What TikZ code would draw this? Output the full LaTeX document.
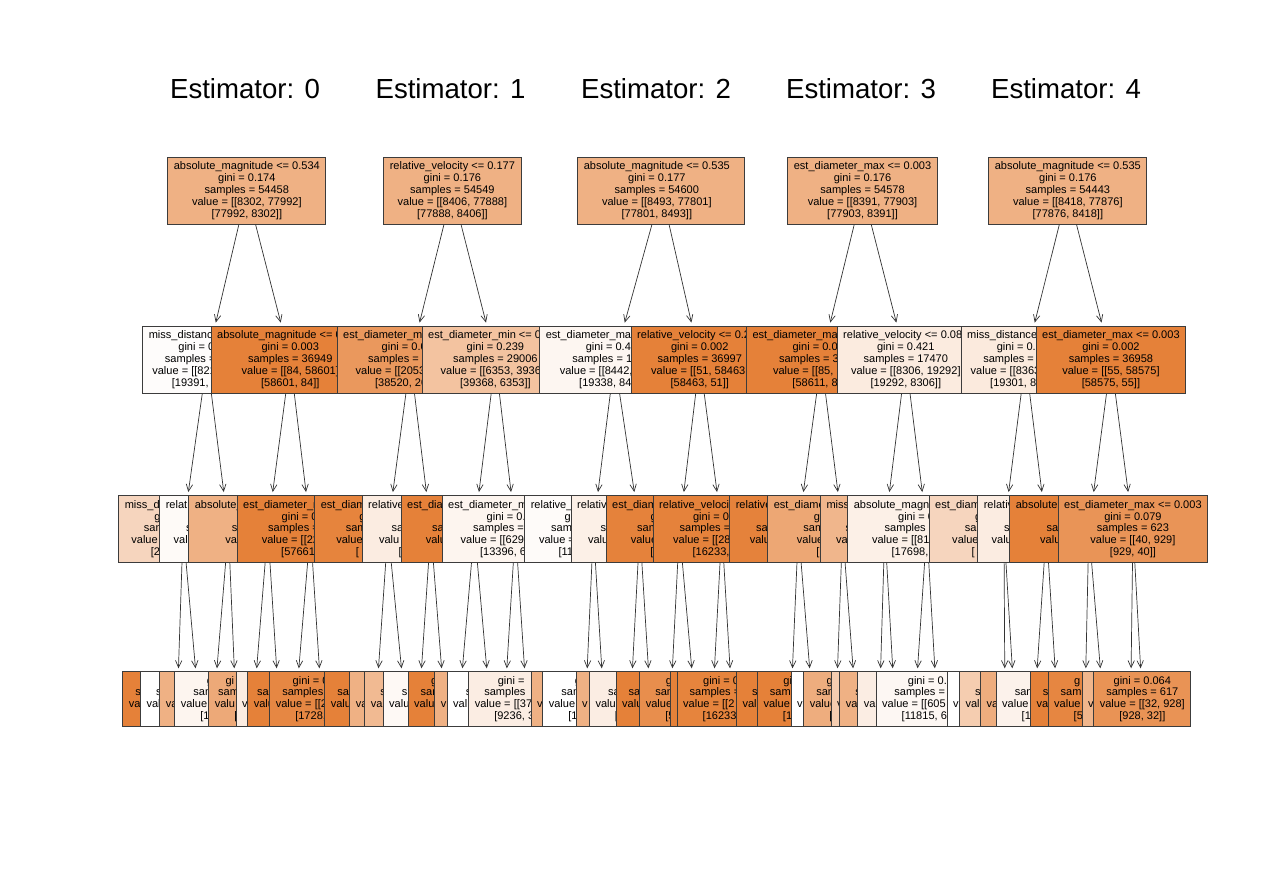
\documentclass[tikz,border=0pt]{standalone}
\usepackage{fontspec}
\setmainfont{Liberation Sans}
\usetikzlibrary{arrows.meta}
\definecolor{treeorg}{RGB}{229,129,57}
\definecolor{boxline}{RGB}{60,60,60}
\newcommand{\hidtxt}[1]{\phantom{#1}}
\newcommand{\padr}{\rule{4.5pt}{0pt}}
\tikzset{
  treetitle/.style={anchor=base,font=\fontsize{13.8}{16}\selectfont},
  nodebox/.style={draw=boxline,line width=0.5pt,anchor=west,align=center,
    inner xsep=3pt,inner ysep=0pt,minimum height=33.5pt,
    font=\fontsize{5.52}{5.92}\selectfont,fill=treeorg!#1!white},
  leafbox/.style={nodebox=#1,minimum height=27.2pt},
  branch/.style={draw=black!80,line width=0.35pt,
    -{Straight Barb[length=3.5pt,width=3.2pt]},shorten >=1.5pt}
}
\begin{document}
\begin{tikzpicture}[x=0.5pt,y=-0.5pt]
  \useasboundingbox (0,0) rectangle (1280,880);
  \fill[white] (0,0) rectangle (1280,880);
  \node[treetitle] (t0) at (245,98) {Estimator: 0};
  \node[treetitle] (t1) at (450.5,98) {Estimator: 1};
  \node[treetitle] (t2) at (656,98) {Estimator: 2};
  \node[treetitle] (t3) at (861,98) {Estimator: 3};
  \node[treetitle] (t4) at (1066,98) {Estimator: 4};
  % roots
  \node[nodebox=62] (e0) at (167.3,190.5) {absolute\_magnitude <= 0.534\\gini = 0.174\\samples = 54458\\value = [[8302, 77992]\\{}[77992, 8302]]};
  \node[nodebox=62] (e1) at (383.3,190.5) {relative\_velocity <= 0.177\\gini = 0.176\\samples = 54549\\value = [[8406, 77888]\\{}[77888, 8406]]};
  \node[nodebox=62] (e2) at (577.3,190.5) {absolute\_magnitude <= 0.535\padr\\gini = 0.177\padr\\samples = 54600\padr\\value = [[8493, 77801]\padr\\{}[77801, 8493]]\padr};
  \node[nodebox=62] (e3) at (787.3,190.5) {est\_diameter\_max <= 0.003\\gini = 0.176\\samples = 54578\\value = [[8391, 77903]\\{}[77903, 8391]]};
  \node[nodebox=62] (e4) at (988.3,190.5) {absolute\_magnitude <= 0.535\\gini = 0.176\\samples = 54443\\value = [[8418, 77876]\\{}[77876, 8418]]};
  % depth 1
  \node[nodebox=2] (e0l) at (142.3,359.5) {miss\_distanc\hidtxt{e <= 0.000}\\gini = 0\hidtxt{.000}\\samples =\hidtxt{ 17509}\\value = [[821\hidtxt{8, 19391]}\\{}[19391, 8\hidtxt{218]]}};
  \node[nodebox=100] (e0r) at (210.7,359.5) {absolute\_magnitude <= 0\hidtxt{.000}\\gini = 0.003\\samples = 36949\\value = [[84, 58601]\\{}[58601, 84]]};
  \node[nodebox=82] (e1l) at (336.7,359.5) {est\_diameter\_mi\hidtxt{n <= 0.000}\\gini = 0.0\hidtxt{00}\\samples = \hidtxt{25543}\\value = [[2053\hidtxt{, 38520]}\\{}[38520, 20\hidtxt{53]]}};
  \node[nodebox=48] (e1r) at (421.7,359.5) {est\_diameter\_min <= 0\hidtxt{.000}\\gini = 0.239\\samples = 29006\\value = [[6353, 3936\hidtxt{8]}\\{}[39368, 6353]]};
  \node[nodebox=7] (e2l) at (539.3,359.5) {est\_diameter\_ma\hidtxt{x <= 0.000}\\gini = 0.4\hidtxt{00}\\samples = 1\hidtxt{7603}\\value = [[8442,\hidtxt{ 19338]}\\{}[19338, 84\hidtxt{42]]}};
  \node[nodebox=100] (e2r) at (630.7,359.5) {relative\_velocity <= 0.2\hidtxt{00}\\gini = 0.002\\samples = 36997\\value = [[51, 58463\hidtxt{]}\\{}[58463, 51]]};
  \node[nodebox=100] (e3l) at (746,359.5) {est\_diameter\_max\hidtxt{ <= 0.000}\\gini = 0.0\hidtxt{00}\\samples = 3\hidtxt{7108}\\value = [[85, 5\hidtxt{8611]}\\{}[58611, 8\hidtxt{5]]}};
  \node[nodebox=16] (e3r) at (836.7,359.5) {relative\_velocity <= 0.08\hidtxt{0}\\gini = 0.421\\samples = 17470\\value = [[8306, 19292]\\{}[19292, 8306]]};
  \node[nodebox=17] (e4l) at (960.7,359.5) {miss\_distance\hidtxt{ <= 0.000}\\gini = 0.4\hidtxt{00}\\samples =\hidtxt{ 17485}\\value = [[8363\hidtxt{, 19301]}\\{}[19301, 8\hidtxt{363]]}};
  \node[nodebox=100] (e4r) at (1035.7,359.5) {est\_diameter\_max <= 0.003\\gini = 0.002\\samples = 36958\\value = [[55, 58575]\\{}[58575, 55]]};
  % depth 2
  \node[nodebox=33] (e0ll) at (118.3,529) {miss\_di\hidtxt{stance <= 0.000}\\g\hidtxt{ini = 0.000}\\sam\hidtxt{ples = 0000}\\value\hidtxt{ = [[0000, 2000]}\\{}[2\hidtxt{000, 0000]]}};
  \node[nodebox=4] (e0lr) at (159.3,529) {relati\hidtxt{ve\_velocity <= 0.000}\\\hidtxt{gini = 0.000}\\s\hidtxt{amples = 00000}\\valu\hidtxt{e = [[0000, 00000]}\\\hidtxt{[00000, 0000]]}};
  \node[nodebox=62] (e0rl) at (188.3,529) {absolute\_\hidtxt{magnitude <= 0.000}\\\hidtxt{gini = 0.000}\\s\hidtxt{amples = 000}\\va\hidtxt{lue = [[62, 940]}\\\hidtxt{[940, 62]]}};
  \node[nodebox=100] (e0rr) at (236.7,529) {est\_diameter\_m\hidtxt{in <= 0.000}\\gini = 0\hidtxt{.000}\\samples =\hidtxt{ 00000}\\value = [[22\hidtxt{, 57661]}\\{}[57661\hidtxt{, 22]]}};
  \node[nodebox=98] (e1ll) at (314.3,529) {est\_diam\hidtxt{eter\_min <= 0.000}\\g\hidtxt{ini = 0.000}\\sam\hidtxt{ples = 00000}\\value\hidtxt{ = [[000, 00000]}\\{}[\hidtxt{00000, 000]]}};
  \node[nodebox=15] (e1lr) at (361.7,529) {relative\hidtxt{\_velocity <= 0.000}\\\hidtxt{gini = 0.000}\\sa\hidtxt{mples = 0000}\\valu\hidtxt{e = [[0000, 0000]}\\{}[\hidtxt{0000, 0000]]}};
  \node[nodebox=100] (e1rl) at (400.7,529) {est\_dia\hidtxt{meter\_min <= 0.000}\\\hidtxt{gini = 0.000}\\sa\hidtxt{mples = 00000}\\valu\hidtxt{e = [[00, 00000]}\\\hidtxt{[00000, 00]]}};
  \node[nodebox=8] (e1rr) at (441.7,529) {est\_diameter\_m\hidtxt{in <= 0.000}\\gini = 0.\hidtxt{000}\\samples =\hidtxt{ 00000}\\value = [[629\hidtxt{0, 13396]}\\{}[13396, 6\hidtxt{290]]}};
  \node[nodebox=3] (e2ll) at (524.3,529) {relative\_\hidtxt{velocity <= 0.000}\\g\hidtxt{ini = 0.000}\\sam\hidtxt{ples = 00000}\\value =\hidtxt{ [[0000, 11000]}\\{}[11\hidtxt{000, 0000]]}};
  \node[nodebox=12] (e2lr) at (570.7,529) {relativ\hidtxt{e\_velocity <= 0.000}\\\hidtxt{gini = 0.000}\\sa\hidtxt{mples = 0000}\\value\hidtxt{ = [[0000, 0000]}\\{}[\hidtxt{0000, 0000]]}};
  \node[nodebox=99] (e2rl) at (605.7,529) {est\_diam\hidtxt{eter\_min <= 0.000}\\g\hidtxt{ini = 0.000}\\sam\hidtxt{ples = 00000}\\value\hidtxt{ = [[23, 42230]}\\{}[\hidtxt{42230, 23]]}};
  \node[nodebox=99] (e2rr) at (652.7,529) {relative\_velocit\hidtxt{y <= 0.000}\\gini = 0.\hidtxt{000}\\samples =\hidtxt{ 00000}\\value = [[28\hidtxt{, 16233]}\\{}[16233,\hidtxt{ 28]]}};
  \node[nodebox=99] (e3ll) at (729.3,529) {relative\hidtxt{\_velocity <= 0.000}\\\hidtxt{gini = 0.000}\\sa\hidtxt{mples = 00000}\\valu\hidtxt{e = [[00, 00000]}\\\hidtxt{[00000, 00]]}};
  \node[nodebox=70] (e3lr) at (767.3,529) {est\_diame\hidtxt{ter\_max <= 0.000}\\gi\hidtxt{ni = 0.000}\\sam\hidtxt{ples = 0000}\\value\hidtxt{ = [[00, 1000]}\\{}[1\hidtxt{000, 00]]}};
  \node[nodebox=58] (e3rl) at (820,529) {miss\_\hidtxt{distance <= 0.000}\\\hidtxt{gini = 0.000}\\s\hidtxt{amples = 0000}\\val\hidtxt{ue = [[100, 1594]}\\\hidtxt{[1594, 100]]}};
  \node[nodebox=12] (e3rr) at (847.3,529) {absolute\_magni\hidtxt{tude <= 0.000}\\gini = 0\hidtxt{.000}\\samples =\hidtxt{ 00000}\\value = [[81\hidtxt{00, 17698]}\\{}[17698,\hidtxt{ 8100]]}};
  \node[nodebox=33] (e4ll) at (928.7,529) {est\_diam\hidtxt{eter\_max <= 0.000}\\g\hidtxt{ini = 0.000}\\sa\hidtxt{mples = 0000}\\value\hidtxt{ = [[0000, 0000]}\\{}[\hidtxt{0000, 0000]]}};
  \node[nodebox=15] (e4lr) at (977.3,529) {relativ\hidtxt{e\_velocity <= 0.000}\\\hidtxt{gini = 0.000}\\s\hidtxt{amples = 00000}\\valu\hidtxt{e = [[0000, 00000]}\\\hidtxt{[00000, 0000]]}};
  \node[nodebox=100] (e4rl) at (1009.3,529) {absolute\hidtxt{\_magnitude <= 0.000}\\\hidtxt{gini = 0.000}\\sa\hidtxt{mples = 00000}\\valu\hidtxt{e = [[15, 57646]}\\\hidtxt{[57646, 15]]}};
  \node[nodebox=85] (e4rr) at (1057.7,529) {est\_diameter\_max <= 0.003\\gini = 0.079\\samples = 623\\value = [[40, 929]\\{}[929, 40]]};
  % depth 3
  \node[leafbox=100] (e0lll) at (122.3,699) {\hidtxt{gini = 0.000}\\s\hidtxt{amples = 00000}\\va\hidtxt{lue = [[00, 00000]}\\\hidtxt{[00000, 00]]}};
  \node[leafbox=0] (e0llr) at (140,699) {\hidtxt{gini = 0.000}\\s\hidtxt{amples = 00000}\\val\hidtxt{ue = [[0000, 0000]}\\\hidtxt{[0000, 0000]]}};
  \node[leafbox=62] (e0lrl) at (159.3,699) {\hidtxt{gini = 0.000}\\\hidtxt{samples = 0000}\\va\hidtxt{lue = [[000, 0000]}\\\hidtxt{[0000, 000]]}};
  \node[leafbox=8] (e0lrr) at (174.3,699) {g\hidtxt{ini = 0.000}\\sam\hidtxt{ples = 00000}\\value\hidtxt{ = [[0000, 10000]}\\{}[1\hidtxt{0000, 0000]]}};
  \node[leafbox=68] (e0rll) at (208.3,699) {gi\hidtxt{ni = 0.000}\\sam\hidtxt{ples = 000}\\valu\hidtxt{e = [[0, 000]}\\{}[\hidtxt{000, 0]]}};
  \node[leafbox=15] (e0rlr) at (235.7,699) {\hidtxt{gini = 0.000}\\\hidtxt{samples = 00}\\v\hidtxt{alue = [[0, 00]}\\\hidtxt{[00, 0]]}};
  \node[leafbox=100] (e0rrl) at (247.3,699) {\hidtxt{gini = 0.000}\\sa\hidtxt{mples = 0000}\\valu\hidtxt{e = [[0, 0000]}\\\hidtxt{[0000, 0]]}};
  \node[leafbox=95] (e0rrr) at (269.3,699) {gini = 0\hidtxt{.000}\\samples\hidtxt{ = 0000}\\value = [[2\hidtxt{0, 1728]}\\{}[1728,\hidtxt{ 20]]}};
  \node[leafbox=100] (e1lll) at (324.3,699) {\hidtxt{gini = 0.000}\\sam\hidtxt{ples = 0000}\\valu\hidtxt{e = [[00, 0000]}\\\hidtxt{[0000, 00]]}};
  \node[leafbox=62] (e1llr) at (349.3,699) {\hidtxt{gini = 0.000}\\s\hidtxt{amples = 0000}\\va\hidtxt{lue = [[000, 0000]}\\\hidtxt{[0000, 000]]}};
  \node[leafbox=55] (e1lrl) at (364.3,699) {\hidtxt{gini = 0.000}\\s\hidtxt{amples = 0000}\\va\hidtxt{lue = [[000, 0000]}\\\hidtxt{[0000, 000]]}};
  \node[leafbox=5] (e1lrr) at (382.7,699) {\hidtxt{gini = 0.000}\\s\hidtxt{amples = 00000}\\valu\hidtxt{e = [[0000, 00000]}\\\hidtxt{[00000, 0000]]}};
  \node[leafbox=100] (e1rll) at (407.7,699) {g\hidtxt{ini = 0.000}\\sam\hidtxt{ples = 0000}\\valu\hidtxt{e = [[00, 0000]}\\{}[\hidtxt{0000, 00]]}};
  \node[leafbox=62] (e1rlr) at (434.3,699) {\hidtxt{gini = 0.000}\\\hidtxt{samples = 0000}\\v\hidtxt{alue = [[000, 0000]}\\\hidtxt{[0000, 000]]}};
  \node[leafbox=0] (e1rrl) at (446.7,699) {\hidtxt{gini = 0.000}\\s\hidtxt{amples = 0000}\\val\hidtxt{ue = [[0000, 0000]}\\\hidtxt{[0000, 0000]]}};
  \node[leafbox=14] (e1rrr) at (468.3,699) {gini =\hidtxt{ 0.000}\\samples\hidtxt{ = 00000}\\value = [[37\hidtxt{00, 9236]}\\{}[9236, 3\hidtxt{700]]}};
  \node[leafbox=62] (e2lll) at (530.7,699) {\hidtxt{gini = 0.000}\\\hidtxt{samples = 0000}\\v\hidtxt{alue = [[000, 0000]}\\\hidtxt{[0000, 000]]}};
  \node[leafbox=0] (e2llr) at (542.3,699) {g\hidtxt{ini = 0.000}\\sam\hidtxt{ples = 00000}\\value\hidtxt{ = [[0000, 10000]}\\{}[1\hidtxt{0000, 0000]]}};
  \node[leafbox=62] (e2lrl) at (575.7,699) {\hidtxt{gini = 0.000}\\\hidtxt{samples = 0000}\\v\hidtxt{alue = [[000, 0000]}\\\hidtxt{[0000, 000]]}};
  \node[leafbox=14] (e2lrr) at (589,699) {\hidtxt{gini = 0.000}\\sa\hidtxt{mples = 00000}\\valu\hidtxt{e = [[0000, 00000]}\\{}[\hidtxt{00000, 0000]]}};
  \node[leafbox=100] (e2rll) at (615.7,699) {\hidtxt{gini = 0.000}\\sam\hidtxt{ples = 00000}\\valu\hidtxt{e = [[00, 00000]}\\\hidtxt{[00000, 00]]}};
  \node[leafbox=90] (e2rlr) at (639.3,699) {gi\hidtxt{ni = 0.000}\\sam\hidtxt{ples = 0000}\\value\hidtxt{ = [[000, 5000]}\\{}[5\hidtxt{000, 000]]}};
  \node[leafbox=100] (e2rrl) at (670,699) {\hidtxt{gini = 0.000}\\\hidtxt{samples = 00}\\\hidtxt{value = [[0, 00]}\\\hidtxt{[00, 0]]}};
  \node[leafbox=98] (e2rrr) at (676.7,699) {gini = 0\hidtxt{.000}\\samples =\hidtxt{ 00000}\\value = [[2\hidtxt{0, 16233]}\\{}[16233\hidtxt{, 20]]}};
  \node[leafbox=100] (e3lll) at (736,699) {\hidtxt{gini = 0.000}\\sa\hidtxt{mples = 0000}\\val\hidtxt{ue = [[00, 00000]}\\\hidtxt{[00000, 00]]}};
  \node[leafbox=100] (e3llr) at (757,699) {gi\hidtxt{ni = 0.000}\\samp\hidtxt{les = 00000}\\value\hidtxt{ = [[00, 10000]}\\{}[1\hidtxt{0000, 00]]}};
  \node[leafbox=0] (e3lrl) at (790.5,699) {g\hidtxt{ini = 0.000}\\s\hidtxt{amples = 00}\\v\hidtxt{alue = [[00, 00]}\\\hidtxt{[00, 00]]}};
  \node[leafbox=65] (e3lrr) at (803.3,699) {gi\hidtxt{ni = 0.000}\\sam\hidtxt{ples = 0000}\\value\hidtxt{ = [[00, 0000]}\\{}[\hidtxt{0000, 00]]}};
  \node[leafbox=40] (e3rll) at (830.7,699) {\hidtxt{gini = 0.000}\\\hidtxt{samples = 000}\\v\hidtxt{alue = [[00, 000]}\\\hidtxt{[000, 00]]}};
  \node[leafbox=62] (e3rlr) at (839.3,699) {\hidtxt{gini = 0.000}\\s\hidtxt{amples = 0000}\\val\hidtxt{ue = [[000, 0000]}\\\hidtxt{[0000, 000]]}};
  \node[leafbox=14] (e3rrl) at (857.3,699) {\hidtxt{gini = 0.000}\\\hidtxt{samples = 0000}\\val\hidtxt{ue = [[0000, 0000]}\\\hidtxt{[0000, 0000]]}};
  \node[leafbox=6] (e3rrr) at (875.7,699) {gini = 0.\hidtxt{000}\\samples =\hidtxt{ 00000}\\value = [[605\hidtxt{0, 11815]}\\{}[11815, 6\hidtxt{050]]}};
  \node[leafbox=0] (e4lll) at (946.7,699) {\hidtxt{gini = 0.000}\\\hidtxt{samples = 0000}\\v\hidtxt{alue = [[0000, 0000]}\\\hidtxt{[0000, 0000]]}};
  \node[leafbox=40] (e4llr) at (959,699) {\hidtxt{gini = 0.000}\\s\hidtxt{amples = 0000}\\valu\hidtxt{e = [[000, 0000]}\\\hidtxt{[0000, 000]]}};
  \node[leafbox=65] (e4lrl) at (980,699) {\hidtxt{gini = 0.000}\\\hidtxt{samples = 0000}\\va\hidtxt{lue = [[000, 0000]}\\\hidtxt{[0000, 000]]}};
  \node[leafbox=10] (e4lrr) at (995.7,699) {\hidtxt{gini = 0.000}\\sam\hidtxt{ples = 00000}\\value\hidtxt{ = [[0000, 10000]}\\{}[1\hidtxt{0000, 0000]]}};
  \node[leafbox=100] (e4rll) at (1030,699) {\hidtxt{gini = 0.000}\\s\hidtxt{amples = 00000}\\val\hidtxt{ue = [[00, 00000]}\\\hidtxt{[00000, 00]]}};
  \node[leafbox=96] (e4rlr) at (1047.7,699) {g\hidtxt{ini = 0.000}\\samp\hidtxt{les = 00000}\\value\hidtxt{ = [[00, 50000]}\\{}[5\hidtxt{0000, 00]]}};
  \node[leafbox=58] (e4rrl) at (1081.7,699) {\hidtxt{gini = 0.000}\\s\hidtxt{amples = 000}\\v\hidtxt{alue = [[00, 000]}\\\hidtxt{[000, 00]]}};
  \node[leafbox=86] (e4rrr) at (1093.3,699) {gini = 0.064\\samples = 617\\value = [[32, 928]\\{}[928, 32]]};
  % branches
  \foreach \t in {0,...,4}{
    \draw[branch] (e\t) -- (e\t l);
    \draw[branch] (e\t) -- (e\t r);
    \foreach \p in {l,r,ll,lr,rl,rr}{
      \draw[branch] (e\t\p) -- (e\t\p l);
      \draw[branch] (e\t\p) -- (e\t\p r);
    }
  }
\end{tikzpicture}
\end{document}
